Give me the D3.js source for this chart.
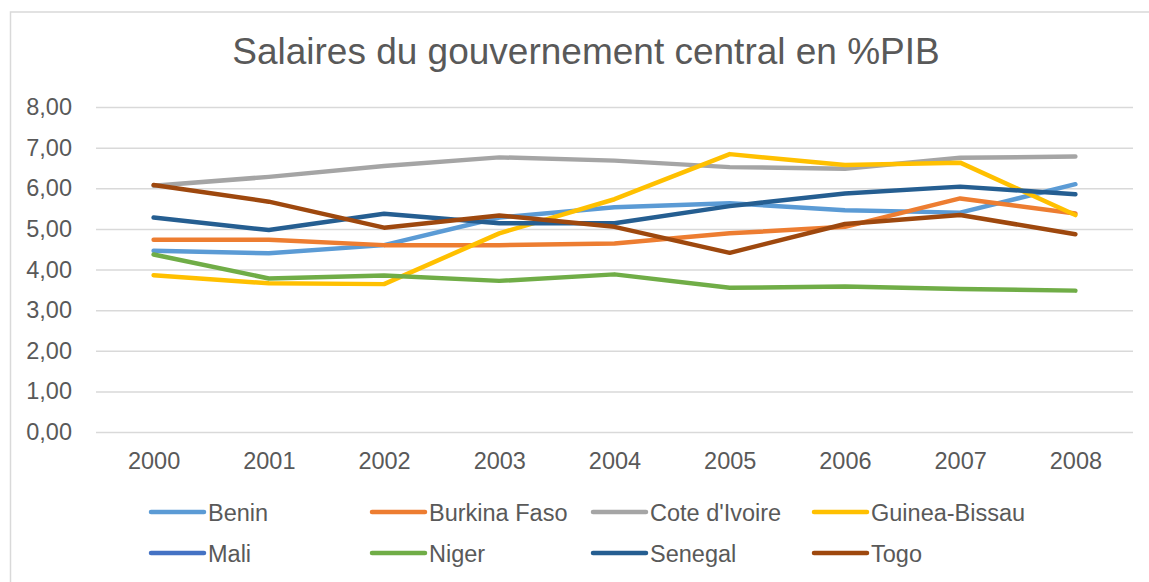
<!DOCTYPE html>
<html>
<head>
<meta charset="utf-8">
<script src="https://cdn.jsdelivr.net/npm/d3@7"></script>
<style>
  body { margin: 0; background: #fff; }
  text { font-family: "Liberation Sans", Arial, sans-serif; fill: #595959; }
</style>
</head>
<body>
<div id="chart"></div>
<script>
var svgWidth = 1149;
var svgHeight = 582;

// data
var years = ["2000", "2001", "2002", "2003", "2004", "2005", "2006", "2007", "2008"];
var yTicks = [0, 1, 2, 3, 4, 5, 6, 7, 8];

var benin = [4.46, 4.40, 4.60, 5.28, 5.53, 5.63, 5.46, 5.40, 6.10];
var burkinaFaso = [4.73, 4.73, 4.60, 4.60, 4.64, 4.89, 5.05, 5.75, 5.38];
var coteIvoire = [6.06, 6.28, 6.55, 6.76, 6.68, 6.52, 6.48, 6.75, 6.78];
var guineaBissau = [3.86, 3.66, 3.64, 4.89, 5.73, 6.84, 6.57, 6.63, 5.34];
var mali = [null, null, null, null, null, null, null, null, null];
var niger = [4.37, 3.78, 3.85, 3.72, 3.88, 3.55, 3.58, 3.52, 3.48];
var senegal = [5.28, 4.97, 5.37, 5.14, 5.14, 5.56, 5.87, 6.04, 5.85];
var togo = [6.08, 5.67, 5.03, 5.33, 5.05, 4.41, 5.12, 5.34, 4.87];

var seriesNames = ["Benin", "Burkina Faso", "Cote d'Ivoire", "Guinea-Bissau", "Mali", "Niger", "Senegal", "Togo"];
var seriesValues = [benin, burkinaFaso, coteIvoire, guineaBissau, mali, niger, senegal, togo];
var colors = ["#5B9BD5", "#ED7D31", "#A5A5A5", "#FFC000", "#4472C4", "#70AD47", "#255E91", "#9E480E"];

var plot = { left: 96, right: 1133, top: 107, bottom: 432 };

var svg = d3.select("#chart")
  .append("svg")
  .attr("width", svgWidth)
  .attr("height", svgHeight);

// chart border
svg.append("rect")
  .attr("x", 10.5)
  .attr("y", 12)
  .attr("width", svgWidth + 20)
  .attr("height", svgHeight + 20)
  .attr("fill", "none")
  .attr("stroke", "#d9d9d9")
  .attr("stroke-width", 1.5);

// title
svg.append("text")
  .attr("x", 586)
  .attr("y", 64)
  .attr("text-anchor", "middle")
  .style("font-size", "37px")
  .text("Salaires du gouvernement central en %PIB");

var xScale = d3.scalePoint()
  .domain(years)
  .range([plot.left, plot.right])
  .padding(0.5);

var yScale = d3.scaleLinear()
  .domain([0, 8])
  .range([plot.bottom, plot.top]);

// gridlines
var leftAxis = d3.axisLeft(yScale)
  .tickValues(yTicks)
  .tickSize(-(plot.right - plot.left))
  .tickPadding(24)
  .tickFormat(d => d3.format(".2f")(d).replace(".", ","));

var yAxis = svg.append("g")
  .attr("transform", `translate(${plot.left}, 0)`)
  .call(leftAxis);

yAxis.select(".domain").remove();
yAxis.selectAll(".tick line")
  .attr("stroke", "#d9d9d9")
  .attr("stroke-width", 1.5);
yAxis.selectAll(".tick text")
  .style("font-size", "23.5px")
  .attr("fill", "#595959");

var bottomAxis = d3.axisBottom(xScale)
  .tickSize(0)
  .tickPadding(20);

var xAxis = svg.append("g")
  .attr("transform", `translate(0, ${plot.bottom})`)
  .call(bottomAxis);

xAxis.select(".domain").remove();
xAxis.selectAll(".tick text")
  .style("font-size", "23.5px")
  .attr("fill", "#595959");

// lines
var line = d3.line()
  .defined(d => d !== null)
  .x((d, i) => xScale(years[i]))
  .y(d => yScale(d));

svg.append("g")
  .selectAll("path")
  .data(seriesValues)
  .enter()
  .append("path")
  .attr("d", d => line(d))
  .attr("fill", "none")
  .attr("stroke", (d, i) => colors[i])
  .attr("stroke-width", 4.5)
  .attr("stroke-linecap", "round")
  .attr("stroke-linejoin", "round");

// legend, 4 columns x 2 rows
var legend = svg.append("g")
  .selectAll("g")
  .data(seriesNames)
  .enter()
  .append("g")
  .attr("transform", (d, i) => `translate(${151 + (i % 4) * 221}, ${512 + Math.floor(i / 4) * 41})`);

legend.append("line")
  .attr("x1", 0)
  .attr("x2", 53)
  .attr("stroke", (d, i) => colors[i])
  .attr("stroke-width", 4.5)
  .attr("stroke-linecap", "round");

legend.append("text")
  .attr("x", 57)
  .attr("y", 8.5)
  .style("font-size", "23.5px")
  .text(d => d);
</script>
</body>
</html>
